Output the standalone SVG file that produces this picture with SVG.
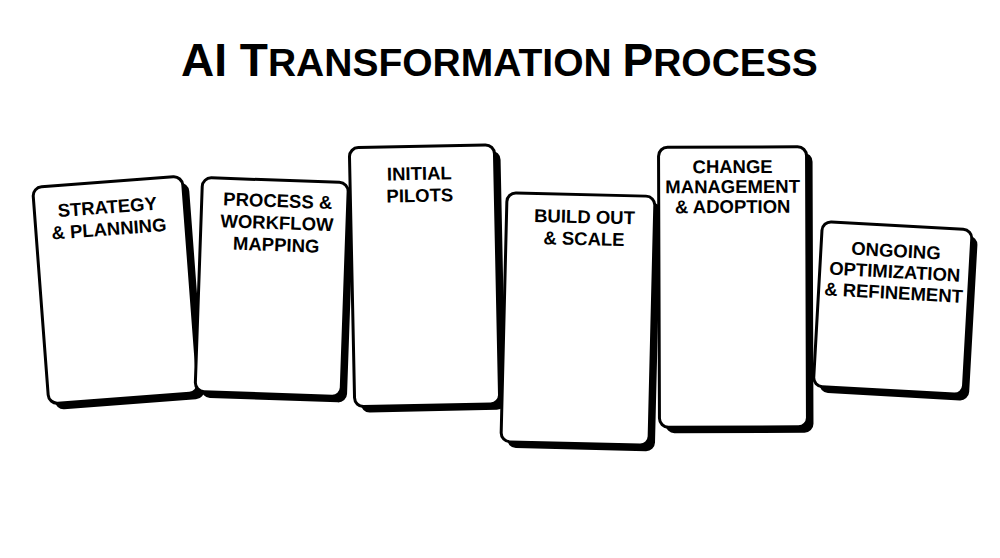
<svg xmlns="http://www.w3.org/2000/svg" width="1000" height="558" viewBox="0 0 1000 558">
  <style>
    .shadow { fill: #000; }
    .card { fill: #fff; stroke: #000; stroke-width: 3; }
    .lbl { font-family: "Liberation Sans", Arial, sans-serif; font-weight: bold; font-size: 18.5px; fill: #000; text-anchor: middle; }
    .title { font-family: "Liberation Sans", Arial, sans-serif; font-weight: bold; fill: #000; }
  </style>
  <rect x="0" y="0" width="1000" height="558" fill="#fff"/>
  <text class="title" x="181" y="76"><tspan font-size="46">AI T</tspan><tspan font-size="39">RANSFORMATION </tspan><tspan font-size="46">P</tspan><tspan font-size="39">ROCESS</tspan></text>

  <g id="connectors"></g>

  <g id="card-strategy" transform="translate(115.5 290) rotate(-4.3)">
    <rect class="shadow" x="-69" y="-102" width="150" height="217" rx="9"/>
    <rect class="card" x="-75" y="-108.5" width="150" height="217" rx="9"/>
    <text class="lbl" x="-2" y="-77">STRATEGY</text>
    <text class="lbl" x="-2" y="-55">&amp; PLANNING</text>
  </g>

  <g id="card-process" transform="translate(271.75 287) rotate(2)">
    <rect class="shadow" x="-67" y="-101" width="146" height="214" rx="9"/>
    <rect class="card" x="-73" y="-107" width="146" height="214" rx="9"/>
    <text class="lbl" x="3" y="-80">PROCESS &amp;</text>
    <text class="lbl" x="3" y="-58">WORKFLOW</text>
    <text class="lbl" x="3" y="-36">MAPPING</text>
  </g>

  <g id="card-pilots" transform="translate(424.5 275.75) rotate(-1.2)">
    <rect class="shadow" x="-66.5" y="-123.5" width="145" height="259" rx="9"/>
    <rect class="card" x="-72.5" y="-129.5" width="145" height="259" rx="9"/>
    <text class="lbl" x="-3" y="-96">INITIAL</text>
    <text class="lbl" x="-3" y="-74">PILOTS</text>
  </g>

  <g id="card-build" transform="translate(578 319) rotate(1.4)">
    <rect class="shadow" x="-68" y="-118.5" width="148" height="249" rx="9"/>
    <rect class="card" x="-74" y="-124.5" width="148" height="249" rx="9"/>
    <text class="lbl" x="4" y="-96">BUILD OUT</text>
    <text class="lbl" x="4" y="-74">&amp; SCALE</text>
  </g>

  <g id="card-change" transform="translate(733 287) rotate(-0.2)">
    <rect class="shadow" x="-68" y="-134" width="148" height="280" rx="9"/>
    <rect class="card" x="-74" y="-140" width="148" height="280" rx="9"/>
    <text class="lbl" x="0" y="-114">CHANGE</text>
    <text class="lbl" x="0" y="-94">MANAGEMENT</text>
    <text class="lbl" x="0" y="-74">&amp; ADOPTION</text>
  </g>

  <g id="card-ongoing" transform="translate(892.75 308) rotate(3.2)">
    <rect class="shadow" x="-69" y="-76.5" width="150" height="165" rx="9"/>
    <rect class="card" x="-75" y="-82.5" width="150" height="165" rx="9"/>
    <text class="lbl" x="0" y="-51">ONGOING</text>
    <text class="lbl" x="0" y="-30">OPTIMIZATION</text>
    <text class="lbl" x="0" y="-9">&amp; REFINEMENT</text>
  </g>
</svg>
